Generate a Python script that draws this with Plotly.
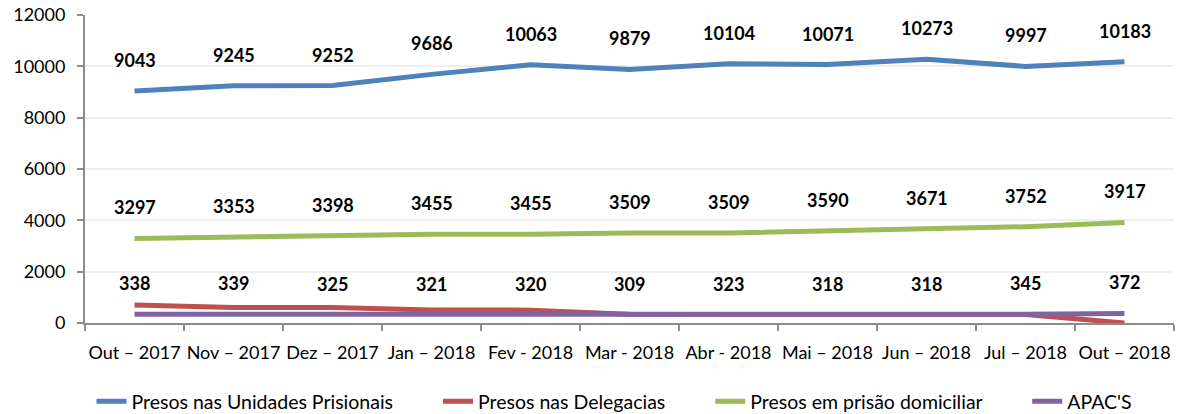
import plotly.graph_objects as go

categories = ["Out – 2017", "Nov – 2017", "Dez – 2017", "Jan – 2018", "Fev - 2018",
              "Mar - 2018", "Abr - 2018", "Mai – 2018", "Jun – 2018", "Jul – 2018", "Out – 2018"]
unidades = [9043, 9245, 9252, 9686, 10063, 9879, 10104, 10071, 10273, 9997, 10183]
delegacias = [700, 600, 600, 510, 500, 340, 330, 330, 310, 330, 0]
domiciliar = [3297, 3353, 3398, 3455, 3455, 3509, 3509, 3590, 3671, 3752, 3917]
apacs = [338, 339, 325, 321, 320, 309, 323, 318, 318, 345, 372]

series = [
    ("Presos nas Unidades Prisionais", unidades, "#4F81BD", True),
    ("Presos nas Delegacias", delegacias, "#C0504D", False),
    ("Presos em prisão domiciliar", domiciliar, "#9BBB59", True),
    ("APAC'S", apacs, "#8064A2", True),
]

FONT = "Lato, Liberation Sans, sans-serif"
PAD = "\u00a0" * 8

fig = go.Figure()
annotations = []
for i, (name, vals, color, labeled) in enumerate(series):
    shown = name + (PAD if i < len(series) - 1 else "")
    fig.add_trace(go.Scatter(x=categories, y=vals, mode="lines", name=shown,
                             line=dict(color=color, width=5)))
    if labeled:
        for c, v in zip(categories, vals):
            annotations.append(dict(x=c, y=v, text=f"<b>{v}</b>", showarrow=False,
                                    yshift=31, font=dict(size=18, color="#000000", family=FONT)))

fig.update_layout(
    width=1178, height=414,
    margin=dict(l=85, r=4, t=15, b=91, autoexpand=False),
    plot_bgcolor="white", paper_bgcolor="white",
    font=dict(family=FONT, size=18, color="#000000"),
    showlegend=True,
    legend=dict(orientation="h", x=0.006, xanchor="left", y=-0.255, yanchor="middle",
                font=dict(size=19.5), tracegroupgap=0),
    annotations=annotations,
)
fig.update_xaxes(type="category", showline=True, linecolor="#8c8c8c", linewidth=2,
                 ticks="outside", tickson="boundaries", ticklen=6, tickcolor="#8c8c8c",
                 tickwidth=2, showgrid=False, range=[-0.5, 10.5], automargin=False,
                 ticklabelstandoff=12, tickangle=0)
fig.update_yaxes(range=[0, 12000], dtick=2000, tickformat="d", showline=True,
                 linecolor="#8c8c8c", automargin=False,
                 linewidth=2, ticks="outside", ticklen=6, tickcolor="#8c8c8c", tickwidth=2,
                 showgrid=True, gridcolor="#efefef", gridwidth=2, zeroline=False,
                 ticklabelstandoff=8)

fig.write_html("out.html", config={"displayModeBar": False},
               post_script="document.body.style.margin='0px';")
